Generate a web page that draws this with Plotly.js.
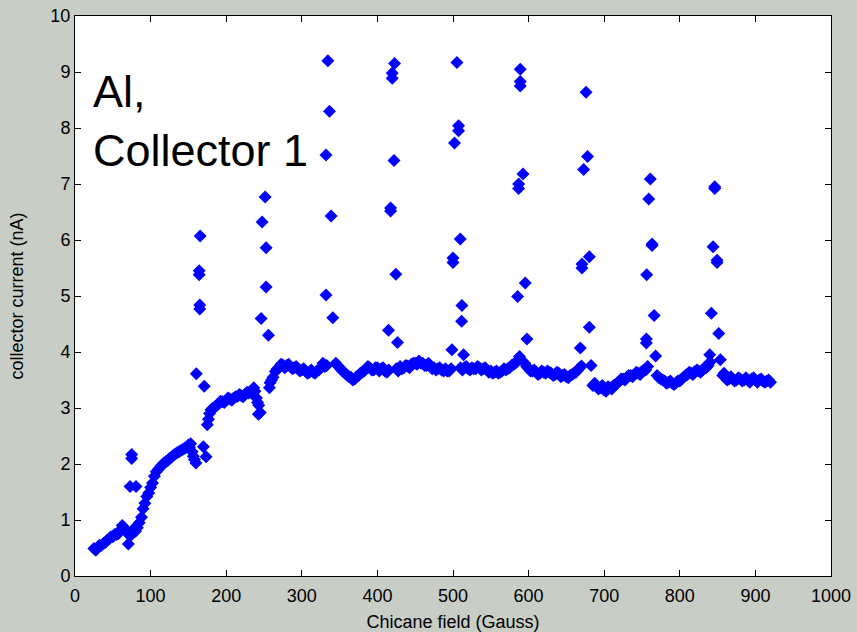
<!DOCTYPE html>
<html>
<head>
<meta charset="utf-8">
<script src="https://cdn.plot.ly/plotly-3.0.1.min.js"></script>
<style>html,body{margin:0;padding:0;background:#c8cdc6;}#chart{width:857px;height:632px;}</style>
</head>
<body>
<div id="chart"></div>
<script>
// Baseline scan (Chicane field in Gauss, collector current in nA)
const baseX = [25,30,35,40,45,50,55,60,65,70,75,80,85,88,90,95,100,105,110,115,120,125,130,135,140,145,150,153,155,158,160,
  175,178,180,185,190,195,200,205,210,215,220,225,230,235,238,240,243,245,
  258,262,265,270,275,280,285,290,295,300,305,310,315,320,325,328,333,
  345,350,355,360,365,370,375,380,385,390,395,400,405,410,415,
  425,430,435,440,445,450,455,460,465,470,475,480,485,490,495,
  510,515,520,525,530,535,540,545,550,555,560,565,570,575,580,585,588,
  595,600,605,610,615,620,625,630,635,640,645,650,655,660,665,670,
  685,690,695,700,705,710,715,720,725,730,735,740,745,750,755,
  770,775,780,785,790,795,800,805,810,815,820,825,830,835,840,
  857,860,865,870,875,880,885,890,895,900,905,910,915,920];
const baseY = [0.49,0.52,0.55,0.60,0.66,0.70,0.74,0.82,0.86,0.78,0.74,0.80,0.95,1.05,1.20,1.42,1.58,1.78,1.90,1.98,2.04,2.10,2.15,2.20,2.24,2.28,2.34,2.36,2.22,2.08,2.02,
  2.70,2.90,2.97,3.02,3.08,3.11,3.14,3.16,3.18,3.21,3.22,3.24,3.27,3.32,3.30,3.18,3.05,2.92,
  3.45,3.55,3.65,3.72,3.77,3.76,3.74,3.72,3.70,3.68,3.66,3.64,3.64,3.66,3.72,3.80,3.76,
  3.80,3.72,3.65,3.58,3.55,3.52,3.58,3.64,3.70,3.72,3.68,3.72,3.70,3.66,3.68,
  3.70,3.74,3.72,3.75,3.78,3.80,3.84,3.80,3.76,3.74,3.72,3.70,3.68,3.70,3.66,
  3.72,3.72,3.70,3.72,3.70,3.72,3.70,3.68,3.66,3.64,3.62,3.66,3.68,3.72,3.78,3.84,3.92,
  3.80,3.70,3.66,3.64,3.62,3.64,3.66,3.62,3.60,3.62,3.58,3.56,3.58,3.62,3.68,3.75,
  3.40,3.38,3.36,3.32,3.38,3.34,3.42,3.48,3.52,3.55,3.58,3.60,3.62,3.65,3.68,
  3.58,3.52,3.48,3.46,3.44,3.45,3.48,3.55,3.60,3.62,3.65,3.66,3.68,3.72,3.82,
  3.58,3.55,3.52,3.52,3.50,3.52,3.50,3.50,3.52,3.50,3.50,3.48,3.48,3.46];
// Interleaved readings of the same scan (scatter of the baseline)
const base2X = [27.5,32.5,37.5,42.5,47.5,52.5,57.5,62.5,67.5,72.5,77.5,82.5,92.5,97.5,102.5,107.5,112.5,117.5,122.5,127.5,132.5,137.5,142.5,147.5,151.5,156.5,
  176.5,182.5,187.5,192.5,197.5,202.5,207.5,212.5,217.5,222.5,227.5,232.5,236.5,241.5,
  260,267.5,272.5,277.5,282.5,287.5,292.5,297.5,302.5,307.5,312.5,317.5,322.5,330.5,
  347.5,352.5,357.5,362.5,367.5,372.5,377.5,382.5,387.5,392.5,397.5,402.5,407.5,412.5,
  427.5,432.5,437.5,442.5,447.5,452.5,457.5,462.5,467.5,472.5,477.5,482.5,487.5,492.5,497.5,
  512.5,517.5,522.5,527.5,532.5,537.5,542.5,547.5,552.5,557.5,562.5,567.5,572.5,577.5,582.5,586.5,
  597.5,602.5,607.5,612.5,617.5,622.5,627.5,632.5,637.5,642.5,647.5,652.5,657.5,662.5,667.5,
  687.5,692.5,697.5,702.5,707.5,712.5,717.5,722.5,727.5,732.5,737.5,742.5,747.5,752.5,757.5,
  772.5,777.5,782.5,787.5,792.5,797.5,802.5,807.5,812.5,817.5,822.5,827.5,832.5,837.5,
  858.5,862.5,867.5,872.5,877.5,882.5,887.5,892.5,897.5,902.5,907.5,912.5,917.5];
const base2Y = [0.46,0.55,0.58,0.64,0.70,0.74,0.76,0.90,0.80,0.72,0.84,0.86,1.30,1.48,1.66,1.86,1.94,2.02,2.06,2.12,2.18,2.22,2.26,2.30,2.30,2.14,
  2.80,3.00,3.04,3.12,3.10,3.18,3.14,3.20,3.24,3.20,3.28,3.30,3.36,3.10,
  3.50,3.70,3.78,3.72,3.78,3.70,3.74,3.66,3.70,3.62,3.68,3.62,3.68,3.74,
  3.76,3.68,3.62,3.56,3.50,3.56,3.62,3.66,3.74,3.68,3.72,3.66,3.72,3.64,
  3.66,3.70,3.76,3.72,3.80,3.78,3.80,3.76,3.80,3.70,3.68,3.72,3.66,3.66,3.70,
  3.68,3.74,3.68,3.70,3.74,3.68,3.72,3.64,3.62,3.66,3.64,3.70,3.70,3.76,3.80,3.86,
  3.74,3.66,3.68,3.60,3.66,3.62,3.64,3.58,3.64,3.56,3.60,3.54,3.60,3.64,3.72,
  3.44,3.34,3.40,3.30,3.36,3.40,3.44,3.52,3.50,3.58,3.56,3.64,3.60,3.68,3.74,
  3.54,3.50,3.44,3.48,3.42,3.48,3.52,3.58,3.64,3.60,3.68,3.64,3.72,3.76,
  3.62,3.50,3.56,3.48,3.54,3.48,3.54,3.46,3.54,3.46,3.52,3.46,3.50];
// Resonance spikes
const spikeX = [70.6,72.8,80.7,75,75,
  160.5,171,164.3,164.3,165,165,165.6,169.8,173.4,
  251.5,247.5,252.8,252.8,246.2,255.9,257.2,242.6,
  334.5,336.6,332,338.8,332,341,
  422.7,419.6,419.6,422,417.4,417.4,424.4,414.7,426.6,
  505.2,507.4,507.4,502,509.6,500,500,511.8,511.4,498.6,514,
  589,589,589,592.6,586.8,586.8,595.6,585.5,597.8,
  676,678,672.8,680.3,670.6,670.6,680.3,668.4,682.6,
  761,758.9,763.3,763.3,756.2,766,755.8,755.8,768,
  846.2,846.2,844,849.3,849.3,841.8,851.5,839.6,853.7];
const spikeY = [0.57,1.60,1.60,2.10,2.17,
  3.61,3.39,5.45,5.38,4.84,4.77,6.07,2.31,2.13,
  6.77,6.32,5.86,5.16,4.60,4.30,3.36,2.89,
  9.20,8.30,7.52,6.43,5.02,4.61,
  9.15,8.98,8.89,7.42,6.57,6.52,5.39,4.39,4.17,
  9.17,8.04,7.95,7.73,6.02,5.68,5.60,4.83,4.55,4.04,3.95,
  9.05,8.83,8.75,7.18,7.00,6.92,5.23,4.99,4.23,
  8.64,7.49,7.26,5.70,5.50,5.57,4.44,4.07,3.76,
  7.09,6.73,5.93,5.90,5.38,4.65,4.23,4.16,3.93,
  6.95,6.92,5.88,5.64,5.60,4.69,4.33,3.95,3.86];
const xTicks = [0,100,200,300,400,500,600,700,800,900,1000];
const yTicks = [0,1,2,3,4,5,6,7,8,9,10];

const mk = {symbol:'diamond', size:10, color:'#0000ff', line:{width:0}};
const traces = [
  {x: baseX, y: baseY, mode:'markers', type:'scatter', marker: mk},
  {x: base2X, y: base2Y, mode:'markers', type:'scatter', marker: mk},
  {x: spikeX, y: spikeY, mode:'markers', type:'scatter', marker: mk}
];
const fnt = {family:'Liberation Sans, Arial, sans-serif', size:18, color:'#000'};
const axBase = {showline:true, linecolor:'#000', linewidth:1, mirror:'ticks', ticks:'inside', ticklen:6,
  tickcolor:'#000', showgrid:false, zeroline:false, tickfont:fnt, automargin:false};
const layout = {
  width:857, height:632,
  margin:{l:75, r:26, t:16, b:56},
  paper_bgcolor:'#c8cdc6', plot_bgcolor:'#ffffff',
  showlegend:false,
  xaxis: Object.assign({}, axBase, {range:[0,1000], tickvals:xTicks, ticktext:xTicks.map(String),
    ticklabelstandoff:3,
    title:{text:'Chicane field (Gauss)', font:fnt, standoff:10}}),
  yaxis: Object.assign({}, axBase, {range:[0,10], tickvals:yTicks, ticktext:yTicks.map(String),
    title:{text:'collector current (nA)', font:fnt, standoff:22}}),
  annotations:[{xref:'paper', yref:'paper', x:0.021, y:0.915, xanchor:'left', yanchor:'top',
    text:'Al,<br>Collector 1', showarrow:false, align:'left',
    font:{family:'Liberation Sans, Arial, sans-serif', size:45, color:'#000'}}]
};
Plotly.newPlot('chart', traces, layout, {displayModeBar:false, staticPlot:true});
</script>
</body>
</html>
